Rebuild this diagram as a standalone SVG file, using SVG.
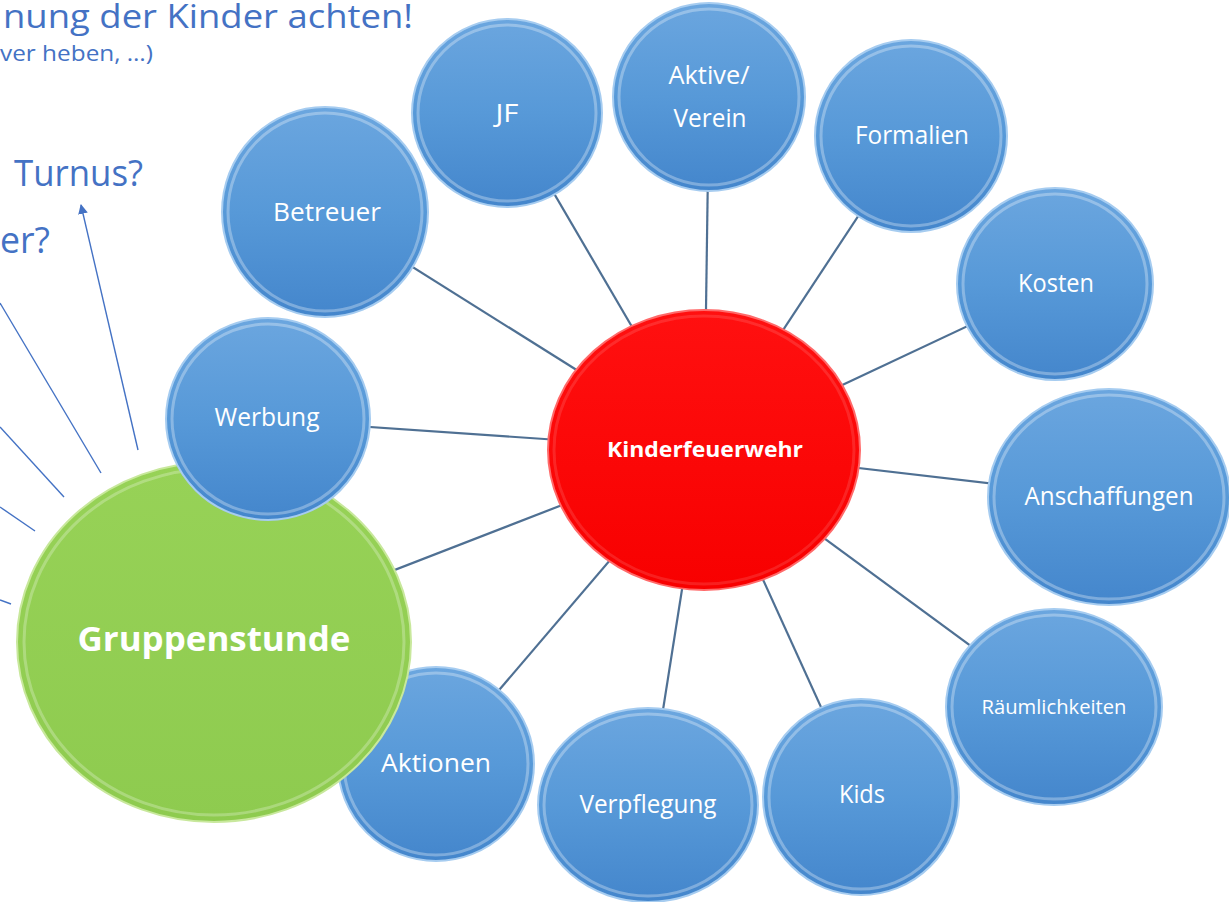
<svg xmlns="http://www.w3.org/2000/svg" width="1229" height="902" viewBox="0 0 1229 902">
<style>
.note{font-family:"Open Sans",Lato,"Liberation Sans",sans-serif;fill:#4472c4}
.lbl{font-family:"Open Sans",Lato,"Liberation Sans",sans-serif;fill:#ffffff;text-anchor:middle}
.bold{font-weight:bold}
.conn line{stroke:#4f7093;stroke-width:2.2}
.left line{stroke:#4472c4;stroke-width:1.4}
.blue{fill:url(#gBlue);stroke:#a6ccf0;stroke-width:2}
.rim{fill:none;stroke:#ffffff;stroke-opacity:0.3;stroke-width:3}
</style>
<defs>
<linearGradient id="gBlue" x1="0" y1="0" x2="0" y2="1">
<stop offset="0" stop-color="#6ba6df"/>
<stop offset="0.5" stop-color="#5799d8"/>
<stop offset="1" stop-color="#4486cc"/>
</linearGradient>
<linearGradient id="gRed" x1="0" y1="0" x2="0" y2="1">
<stop offset="0" stop-color="#ff1010"/>
<stop offset="1" stop-color="#f80000"/>
</linearGradient>
<linearGradient id="gGreen" x1="0" y1="0" x2="0" y2="1">
<stop offset="0" stop-color="#97d257"/>
<stop offset="1" stop-color="#8ecb4f"/>
</linearGradient>
<marker id="arr" viewBox="0 0 10 10" refX="9" refY="5" markerWidth="7" markerHeight="7" orient="auto-start-reverse">
<path d="M0,0 L10,5 L0,10 z" fill="#4472c4"/>
</marker>
</defs>
<rect width="1229" height="902" fill="#ffffff"/>

<g id="notes">
<text class="note" x="3" y="28" font-size="33" textLength="410" lengthAdjust="spacingAndGlyphs">nung der Kinder achten!</text>
<text class="note" x="0" y="61" font-size="21" textLength="153" lengthAdjust="spacingAndGlyphs">ver heben, …)</text>
<text class="note" x="14" y="186" font-size="36" textLength="129" lengthAdjust="spacingAndGlyphs">Turnus?</text>
<text class="note" x="0" y="253" font-size="36" textLength="50" lengthAdjust="spacingAndGlyphs">er?</text>
</g>

<g class="left" id="left-lines">
<line x1="138" y1="450" x2="81" y2="205" marker-end="url(#arr)"/>
<line x1="101" y1="473" x2="0" y2="303"/>
<line x1="64" y1="497" x2="0" y2="427"/>
<line x1="35" y1="531" x2="0" y2="507"/>
<line x1="0" y1="600" x2="11" y2="604"/>
</g>

<g class="conn" id="connectors">
<line x1="704" y1="450" x2="325" y2="212"/>
<line x1="704" y1="450" x2="507" y2="113"/>
<line x1="704" y1="450" x2="709" y2="98"/>
<line x1="704" y1="450" x2="911" y2="136"/>
<line x1="704" y1="450" x2="1055" y2="285"/>
<line x1="704" y1="450" x2="1108" y2="497"/>
<line x1="704" y1="450" x2="1054" y2="707"/>
<line x1="704" y1="450" x2="861" y2="795"/>
<line x1="704" y1="450" x2="648" y2="805"/>
<line x1="704" y1="450" x2="436" y2="764"/>
<line x1="704" y1="450" x2="214" y2="640"/>
<line x1="704" y1="450" x2="268" y2="420"/>
</g>

<g id="jf"><ellipse class="blue" cx="507" cy="113" rx="95" ry="94"/><ellipse class="rim" cx="507" cy="113" rx="89" ry="88"/><text class="lbl" x="507" y="122" font-size="25" textLength="23" lengthAdjust="spacingAndGlyphs">JF</text></g>
<g id="aktive"><ellipse class="blue" cx="709" cy="97" rx="96" ry="94"/><ellipse class="rim" cx="709" cy="97" rx="90" ry="88"/><text class="lbl" x="709" y="84" font-size="25" textLength="81" lengthAdjust="spacingAndGlyphs">Aktive/</text><text class="lbl" x="710" y="127" font-size="25" textLength="73" lengthAdjust="spacingAndGlyphs">Verein</text></g>
<g id="formalien"><ellipse class="blue" cx="911" cy="136" rx="96" ry="96"/><ellipse class="rim" cx="911" cy="136" rx="90" ry="90"/><text class="lbl" x="912" y="144" font-size="25" textLength="114" lengthAdjust="spacingAndGlyphs">Formalien</text></g>
<g id="kosten"><ellipse class="blue" cx="1055" cy="284" rx="98" ry="96"/><ellipse class="rim" cx="1055" cy="284" rx="92" ry="90"/><text class="lbl" x="1056" y="292" font-size="25" textLength="76" lengthAdjust="spacingAndGlyphs">Kosten</text></g>
<g id="anschaffungen"><ellipse class="blue" cx="1109" cy="497" rx="121" ry="108"/><ellipse class="rim" cx="1109" cy="497" rx="115" ry="102"/><text class="lbl" x="1109" y="505" font-size="25" textLength="169" lengthAdjust="spacingAndGlyphs">Anschaffungen</text></g>
<g id="raeumlichkeiten"><ellipse class="blue" cx="1054" cy="707" rx="108" ry="98"/><ellipse class="rim" cx="1054" cy="707" rx="102" ry="92"/><text class="lbl" x="1054" y="714" font-size="19.5" textLength="145" lengthAdjust="spacingAndGlyphs">Räumlichkeiten</text></g>
<g id="kids"><ellipse class="blue" cx="861" cy="797" rx="98" ry="98"/><ellipse class="rim" cx="861" cy="797" rx="92" ry="92"/><text class="lbl" x="862" y="803" font-size="25" textLength="46" lengthAdjust="spacingAndGlyphs">Kids</text></g>
<g id="verpflegung"><ellipse class="blue" cx="648" cy="805" rx="110" ry="97"/><ellipse class="rim" cx="648" cy="805" rx="104" ry="91"/><text class="lbl" x="648" y="813" font-size="25" textLength="137" lengthAdjust="spacingAndGlyphs">Verpflegung</text></g>
<g id="aktionen"><ellipse class="blue" cx="436" cy="764" rx="98" ry="97"/><ellipse class="rim" cx="436" cy="764" rx="92" ry="91"/><text class="lbl" x="436" y="772" font-size="25" textLength="110" lengthAdjust="spacingAndGlyphs">Aktionen</text></g>
<g id="betreuer"><ellipse class="blue" cx="325" cy="212" rx="103" ry="105"/><ellipse class="rim" cx="325" cy="212" rx="97" ry="99"/><text class="lbl" x="327" y="221" font-size="25" textLength="108" lengthAdjust="spacingAndGlyphs">Betreuer</text></g>

<g id="gruppenstunde"><ellipse cx="214" cy="642" rx="197" ry="180" fill="url(#gGreen)" stroke="#c8e89c" stroke-width="2"/><ellipse cx="214" cy="642" rx="190" ry="173" fill="none" stroke="#ffffff" stroke-opacity="0.25" stroke-width="3"/><text class="lbl bold" x="214" y="651" font-size="34" textLength="273" lengthAdjust="spacingAndGlyphs">Gruppenstunde</text></g>

<g id="werbung"><ellipse class="blue" cx="268" cy="419" rx="102" ry="101"/><ellipse class="rim" cx="268" cy="419" rx="96" ry="95"/><text class="lbl" x="267" y="426" font-size="25" textLength="105" lengthAdjust="spacingAndGlyphs">Werbung</text></g>

<g id="kinderfeuerwehr"><ellipse cx="704" cy="450" rx="156" ry="140" fill="url(#gRed)" stroke="#ff6a6a" stroke-width="2"/><ellipse cx="704" cy="450" rx="150" ry="134" fill="none" stroke="#ffffff" stroke-opacity="0.12" stroke-width="3"/><text class="lbl bold" x="705" y="457" font-size="22" textLength="196" lengthAdjust="spacingAndGlyphs">Kinderfeuerwehr</text></g>
</svg>
